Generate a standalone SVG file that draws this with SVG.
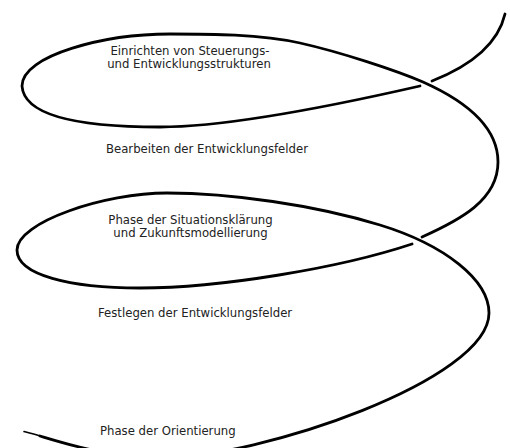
<svg xmlns="http://www.w3.org/2000/svg" width="510" height="448" viewBox="0 0 510 448">
  <style>
    .spiral { fill: none; stroke: #000; stroke-width: 2.8; stroke-linecap: round; stroke-linejoin: round; }
    .tail { fill: none; stroke: #000; stroke-width: 1.6; stroke-linecap: round; }
    .label { font-family: "DejaVu Sans", Verdana, sans-serif; font-size: 11.7px; fill: #222; }
    .mid { text-anchor: middle; }
  </style>
  <rect width="510" height="448" fill="#fff"/>
  <g id="spiral">
    <path class="tail" d="M24,431.6 C30,433.2 36,434.8 42,436.6"/>
    <path class="spiral" d="M40,436 C60,442 110,458 160,458 C260,458 489,380 489,313 C489,280 445,245 380,225 C315,205 230,193 167,193 C105,193 17,222 17,250 C17,275 70,288 140,288 C220,288 340,268 412,244"/>
    <path class="spiral" d="M422,237 C460,220 498,200 498,162 C498,130 470,103 423,82 C395,70 340,52 300,43 C260,34 210,34 170,34 C105,34 22,55 22,86 C24,116 80,127 160,127 C230,127 350,102 420,86"/>
    <path class="spiral" d="M432,81 C465,68 497,48 505,14"/>
  </g>
  <g id="node-steuerung">
    <text class="label mid" x="190" y="55">Einrichten von Steuerungs-</text>
    <text class="label mid" x="189" y="68">und Entwicklungsstrukturen</text>
  </g>
  <g id="node-bearbeiten">
    <text class="label" x="106" y="153">Bearbeiten der Entwicklungsfelder</text>
  </g>
  <g id="node-situation">
    <text class="label mid" x="190.5" y="224">Phase der Situationsklärung</text>
    <text class="label mid" x="190.5" y="237">und Zukunftsmodellierung</text>
  </g>
  <g id="node-festlegen">
    <text class="label" x="98" y="317">Festlegen der Entwicklungsfelder</text>
  </g>
  <g id="node-orientierung">
    <text class="label" x="100" y="435">Phase der Orientierung</text>
  </g>
</svg>
